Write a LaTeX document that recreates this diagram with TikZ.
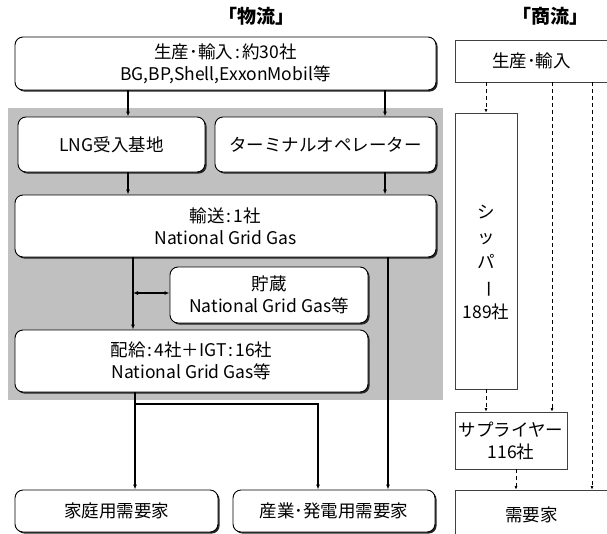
\documentclass[tikz,border=0pt]{standalone}
\usepackage{fontspec}
\setmainfont{Noto Sans CJK JP}
\usetikzlibrary{arrows.meta,shadows}
\definecolor{greybg}{HTML}{C0C0C0}
\definecolor{edgegrey}{HTML}{404040}
\newcommand{\cln}{\hspace{2pt}:\hspace{2pt}}
\tikzset{
  rbox/.style={draw=black, line width=0.9pt, rounded corners=8pt, fill=white,
    drop shadow={shadow xshift=1.6pt, shadow yshift=-1.6pt, opacity=1, fill=black!85},
    align=center, inner sep=0pt, font=\fontsize{17.5}{22}\selectfont},
  sbox/.style={draw=edgegrey, line width=0.8pt, fill=white, align=center, inner sep=0pt,
    font=\fontsize{17.5}{22}\selectfont},
  ttl/.style={font=\fontsize{19}{22}\selectfont\bfseries},
  arr/.style={line width=1.1pt, -{Latex[length=5pt,width=4pt]}},
  darr/.style={line width=0.8pt, dash pattern=on 4pt off 3pt, -{Latex[length=3.5pt,width=3pt]}},
}
\begin{document}
\begin{tikzpicture}[x=1pt,y=-1pt]
\useasboundingbox (0,0) rectangle (607,533);
\fill[white] (0,0) rectangle (607,533);
% grey background
\fill[greybg] (8,108) rectangle (443,400);

% titles
\node[ttl] (t1) at (256,16) {「物流」};
\node[ttl] (t2) at (550,16) {「商流」};

% physical flow boxes
\node[rbox, minimum width=421pt, minimum height=53pt] (prod) at (225.5,63.5) {生産･輸入\cln 約30社\\BG,BP,Shell,ExxonMobil等};
\node[rbox, minimum width=187pt, minimum height=55pt] (lng) at (111.5,144.5) {LNG受入基地};
\node[rbox, minimum width=221pt, minimum height=55pt] (term) at (325.5,144.5) {ターミナルオペレーター};
\node[rbox, minimum width=421pt, minimum height=62pt] (trans) at (225.5,226) {輸送\cln 1社\\National Grid Gas};
\node[rbox, minimum width=198pt, minimum height=56pt] (stor) at (269,295) {貯蔵\\National Grid Gas等};
\node[rbox, minimum width=353pt, minimum height=62pt] (dist) at (191.5,361) {配給\cln 4社＋IGT\cln 16社\\National Grid Gas等};
\node[rbox, minimum width=203pt, minimum height=42pt] (home) at (116.5,511) {家庭用需要家};
\node[rbox, minimum width=202pt, minimum height=42pt] (ind) at (334,511) {産業･発電用需要家};

% commercial flow boxes
\node[sbox, minimum width=155pt, minimum height=42pt] (cprod) at (532.5,61) {\hspace*{-2pt}生産･輸入\hspace*{0pt}};
\node[sbox, minimum width=62pt, minimum height=276pt] (ship) at (486,251) {};
\node[sbox, minimum width=112pt, minimum height=57pt] (supp) at (511,440.5) {サプライヤー\\116社};
\node[sbox, minimum width=155pt, minimum height=50pt] (dem) at (532.5,515) {\hspace*{-2pt}需要家\hspace*{0pt}};
\node[font=\fontsize{17.5}{25}\selectfont, align=center, inner sep=0pt] (shiptxt) at ([yshift=-11pt]ship.center) {シ\\ッ\\パ\\\rotatebox[origin=c]{-90}{ー}\\189社};

% physical connectors
\draw[arr] (prod.south -| 128,0) -- (lng.north -| 128,0);
\draw[arr] (prod.south -| 385,0) -- (term.north -| 385,0);
\draw[arr] (lng.south -| 128,0) -- (trans.north -| 128,0);
\draw[arr] (term.south -| 385,0) -- (trans.north -| 385,0);
\draw[arr] (trans.south -| 133,0) -- (dist.north -| 133,0);
\coordinate (sj) at (133,293);
\draw[line width=1.1pt, {Latex[length=5pt,width=4pt]}-{Latex[length=5pt,width=4pt]}] (sj) -- (stor.west |- sj);
\draw[arr] (trans.south -| 388,0) -- (ind.north -| 388,0);
\draw[arr] (dist.south -| 135,0) -- (home.north -| 135,0);
\coordinate (hj) at (135,404);
\draw[arr] (hj) -| (ind.north -| 318,0);

% commercial connectors
\draw[darr] (cprod.south -| 486,0) -- (ship.north);
\draw[darr] (cprod.south -| 552,0) -- (supp.north -| 552,0);
\draw[darr] (cprod.south -| 592,0) -- (dem.north -| 592,0);
\draw[darr] (ship.south) -- (supp.north -| 486,0);
\draw[darr] (supp.south -| 516,0) -- (dem.north -| 516,0);
\end{tikzpicture}
\end{document}
